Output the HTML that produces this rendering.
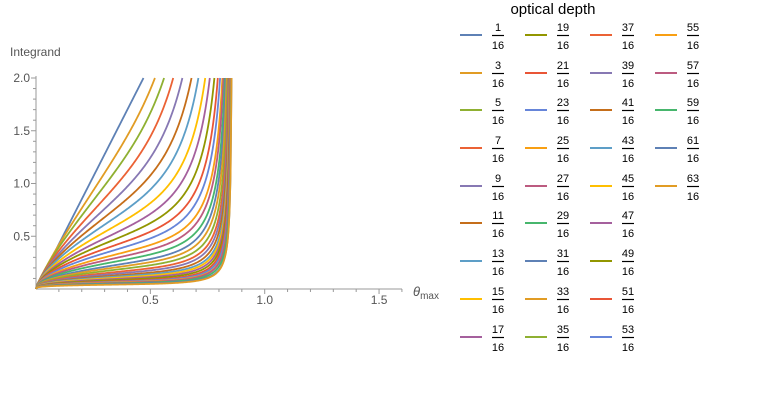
<!DOCTYPE html>
<html><head><meta charset="utf-8"><style>
body{margin:0;background:#fff;}
svg{display:block;font-family:"Liberation Sans",sans-serif;}
</style></head><body>
<svg id="chart" width="769" height="408">
<g id="axes"></g>
<g id="curves"></g>
<g id="legend">
<text x="553" y="14" font-size="15" text-anchor="middle" fill="#000">optical depth</text>
</g>
</svg>
<script>
const numerators = [1,3,5,7,9,11,13,15,17,19,21,23,25,27,29,31,33,35,37,39,41,43,45,47,49,51,53,55,57,59,61,63];
const topX = [0.47,0.52,0.56,0.60,0.64,0.68,0.71,0.74,0.76,0.78,0.795,0.805,0.815,0.82,0.826,0.83,0.834,0.838,0.841,0.843,0.845,0.847,0.848,0.849,0.85,0.851,0.852,0.853,0.853,0.854,0.855,0.855];
const valueAt03 = [1.28,1.1,0.98,0.86,0.76,0.68,0.61,0.54,0.48,0.43,0.38,0.34,0.30,0.27,0.24,0.21,0.19,0.17,0.15,0.135,0.12,0.11,0.10,0.09,0.08,0.07,0.065,0.06,0.055,0.05,0.045,0.04];
const xTicks = [0.5,1.0,1.5];
const yTicks = [0.5,1.0,1.5,2.0];
const palette = ["#5E81B5","#E19C24","#8FB032","#EB6235","#8778B3","#C56E1A","#5D9EC7","#FFBF00","#A5609D","#929600","#E95536","#6685D9","#F89F13","#BC5B80","#47B66D"];

const NS="http://www.w3.org/2000/svg";
const X0=36, XS=228.7, Y0=289, YS=105.5;
const sx=v=>X0+v*XS, sy=v=>Y0-v*YS;
function mk(tag,attrs,parent){const e=document.createElementNS(NS,tag);for(const k in attrs)e.setAttribute(k,attrs[k]);parent.appendChild(e);return e;}
const axes=document.getElementById('axes');
let e;
e=mk('line',{x1:X0,y1:Y0,x2:402,y2:Y0,stroke:'#999','stroke-width':1},axes);


e=mk('line',{x1:X0,y1:Y0,x2:X0,y2:76,stroke:'#999','stroke-width':1},axes);


for(let i=1;i<=16;i++){const v=i/10;const maj=i%5===0;
 e=mk('line',{x1:sx(v),y1:Y0,x2:sx(v),y2:Y0+(maj?5:3),stroke:'#999'},axes);
 
 }
for(let i=1;i<=20;i++){const v=i/10;const maj=i%5===0;
 e=mk('line',{x1:X0,y1:sy(v),x2:X0-(maj?5:3),y2:sy(v),stroke:'#999'},axes);
 
 }
xTicks.forEach(v=>{e=mk('text',{x:sx(v),y:Y0+15,'font-size':12,'text-anchor':'middle',fill:'#555'},axes);e.textContent=v.toFixed(1);
 
 });
yTicks.forEach(v=>{e=mk('text',{x:X0-6,y:sy(v)+4,'font-size':12,'text-anchor':'end',fill:'#555'},axes);e.textContent=v.toFixed(1);
 
 });
e=mk('text',{x:10,y:56,'font-size':12,fill:'#555'},axes);e.textContent='Integrand';


e=mk('text',{x:413,y:296,'font-size':13,fill:'#555'},axes);
e.innerHTML='<tspan font-style="italic">θ</tspan><tspan font-size="10" dy="3">max</tspan>';



const curves=document.getElementById('curves');
const XC=0.86;
numerators.forEach((n,i)=>{
 const T=topX[i], v=valueAt03[i];
 const ex=1-0.75*Math.sqrt(i/31);
 const g1=x=>Math.pow(x,ex), g2=x=>Math.pow(x,4)/(XC-x);
 const a11=g1(0.3),a12=g2(0.3),a21=g1(T),a22=g2(T);
 const det=a11*a22-a12*a21;
 let a=(v*a22-a12*2)/det, r=(a11*2-a21*v)/det;
 if(r<0){r=0;a=2/g1(T);}
 let d='';
 const N=200;
 for(let k=0;k<=N;k++){const x=T*k/N;let y=a*g1(x)+r*g2(x);if(y>2)y=2;
  d+=(k?'L':'M')+sx(x).toFixed(2)+','+sy(y).toFixed(2);}
 const p=mk('path',{d:d,fill:'none',stroke:palette[i%15],'stroke-width':1.8},curves);
 
 
});

const legend=document.getElementById('legend');
const colX=[460,525,590,655], rowY=[35,73,110,148,186,223,261,299,337];
numerators.forEach((n,i)=>{
 const c=Math.floor(i/9), r=i%9;
 const lx=colX[c], ly=rowY[r];
 const g=mk('g',{},legend);
 
 
 mk('line',{x1:lx,y1:ly,x2:lx+22,y2:ly,stroke:palette[i%15],'stroke-width':2},g);
 const cx=lx+38;
 let t=mk('text',{x:cx,y:ly-4,'font-size':11,'text-anchor':'middle',fill:'#000'},g);t.textContent=n;
 mk('line',{x1:cx-6,y1:ly+0.5,x2:cx+6,y2:ly+0.5,stroke:'#000','stroke-width':1.2},g);
 t=mk('text',{x:cx,y:ly+14,'font-size':11,'text-anchor':'middle',fill:'#000'},g);t.textContent='16';
});
</script>
</body></html>
